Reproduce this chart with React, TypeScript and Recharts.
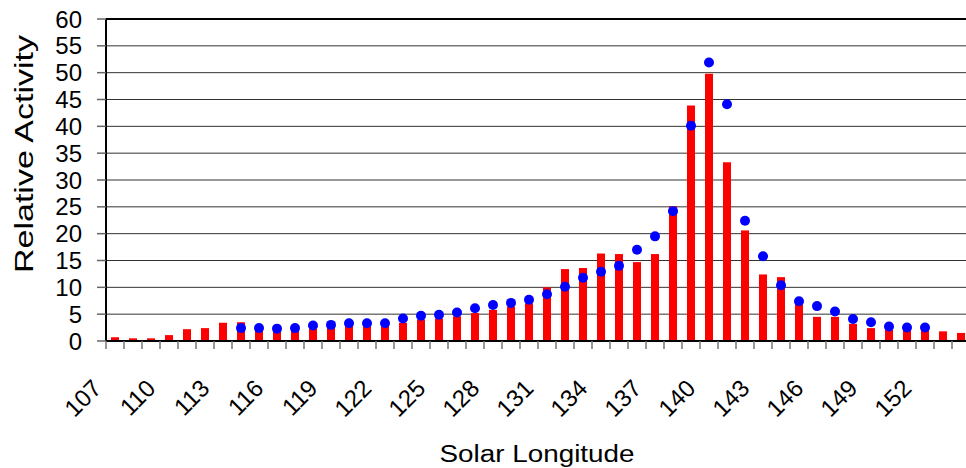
import {
  ComposedChart, Bar, Line, CartesianGrid, XAxis, YAxis, ReferenceLine, Label,
} from "recharts";

const longitudes = [
  107, 108, 109, 110, 111, 112, 113, 114, 115, 116, 117, 118, 119, 120, 121, 122,
  123, 124, 125, 126, 127, 128, 129, 130, 131, 132, 133, 134, 135, 136, 137, 138,
  139, 140, 141, 142, 143, 144, 145, 146, 147, 148, 149, 150, 151, 152, 153, 154,
];

// red bars
const barValues = [
  0.7, 0.5, 0.5, 1.1, 2.2, 2.4, 3.4, 3.5, 2.0, 1.8, 1.9, 2.3, 2.5, 2.8, 2.8, 3.0,
  3.4, 4.0, 4.2, 4.6, 5.2, 5.8, 6.4, 7.0, 10.0, 13.4, 13.6, 16.3, 16.2, 14.7, 16.2, 25.1,
  43.9, 49.8, 33.3, 20.6, 12.4, 11.9, 7.0, 4.5, 4.5, 3.2, 2.4, 2.2, 2.0, 2.0, 1.8, 1.5,
];

// blue dots (none before 114 or after 152)
const dotValues = [
  null, null, null, null, null, null, null, 2.4, 2.4, 2.3, 2.4, 2.9, 3.0, 3.3, 3.3, 3.3,
  4.2, 4.7, 4.9, 5.3, 6.1, 6.7, 7.1, 7.7, 8.7, 10.1, 11.8, 12.9, 14.0, 17.0, 19.5, 24.2,
  40.1, 51.9, 44.1, 22.4, 15.8, 10.4, 7.4, 6.5, 5.5, 4.1, 3.5, 2.7, 2.5, 2.5, null, null,
];

const yTicks = [0, 5, 10, 15, 20, 25, 30, 35, 40, 45, 50, 55, 60];

const data = longitudes.map((lon, i) => ({ lon, bar: barValues[i], dot: dotValues[i] }));

const FONT = "'Liberation Sans', Arial, sans-serif";
const BAND = 18;

function XTick(props: any) {
  const { x, y, payload } = props;
  const showLabel = (payload.value - 107) % 3 === 0;
  const ax = x - 18;
  const ay = y + 43;
  return (
    <g>
      <line x1={x - BAND / 2} y1={y} x2={x - BAND / 2} y2={y + 8} stroke="#777" strokeWidth={1.5} />
      {payload.value === 154 && (
        <line x1={x + BAND / 2} y1={y} x2={x + BAND / 2} y2={y + 8} stroke="#777" strokeWidth={1.5} />
      )}
      {showLabel && (
        <text
          x={ax}
          y={ay}
          dy="0.35em"
          textAnchor="end"
          transform={`rotate(-45, ${ax}, ${ay})`}
          fontFamily={FONT}
          fontSize={24}
          fill="#000"
        >
          {payload.value}
        </text>
      )}
    </g>
  );
}

function YTitle() {
  return (
    <text
      x={33}
      y={154}
      textAnchor="middle"
      transform="rotate(-90, 33, 154)"
      fontFamily={FONT}
      fontSize={26}
      textLength={238}
      lengthAdjust="spacingAndGlyphs"
      fill="#000"
    >
      Relative Activity
    </text>
  );
}

function XTitle() {
  return (
    <text
      x={537}
      y={462}
      textAnchor="middle"
      fontFamily={FONT}
      fontSize={23}
      textLength={195}
      lengthAdjust="spacingAndGlyphs"
      fill="#000"
    >
      Solar Longitude
    </text>
  );
}

export default function App() {
  return (
    <div style={{ position: "absolute", left: 0, top: 0, width: 966, height: 468, overflow: "hidden", background: "#fff" }}>
      <ComposedChart
        width={970}
        height={468}
        data={data}
        margin={{ top: 19, right: 0, left: 0, bottom: 0 }}
      >
        <CartesianGrid vertical={false} stroke="#333" strokeWidth={1} />
        <XAxis
          dataKey="lon"
          interval={0}
          height={127}
          tickSize={0}
          tickMargin={0}
          tickLine={false}
          axisLine={{ stroke: "#000", strokeWidth: 2 }}
          tick={(p: any) => <XTick {...p} />}
        >
          <Label content={<XTitle />} />
        </XAxis>
        <YAxis
          width={106}
          domain={[0, 60]}
          ticks={yTicks}
          interval={0}
          tickSize={9}
          tickMargin={15}
          tickLine={{ stroke: "#666", strokeWidth: 1.5 }}
          axisLine={{ stroke: "#000", strokeWidth: 2 }}
          tick={{ fontFamily: FONT, fontSize: 24, fill: "#000" }}
        >
          <Label content={<YTitle />} />
        </YAxis>
        <ReferenceLine y={60} stroke="#000" strokeWidth={2} />
        <Bar dataKey="bar" fill="#ff0000" barSize={8} isAnimationActive={false} />
        <Line
          dataKey="dot"
          stroke="none"
          dot={{ r: 5, fill: "#0000ff", stroke: "none" }}
          activeDot={false}
          connectNulls={false}
          isAnimationActive={false}
        />
      </ComposedChart>
    </div>
  );
}
